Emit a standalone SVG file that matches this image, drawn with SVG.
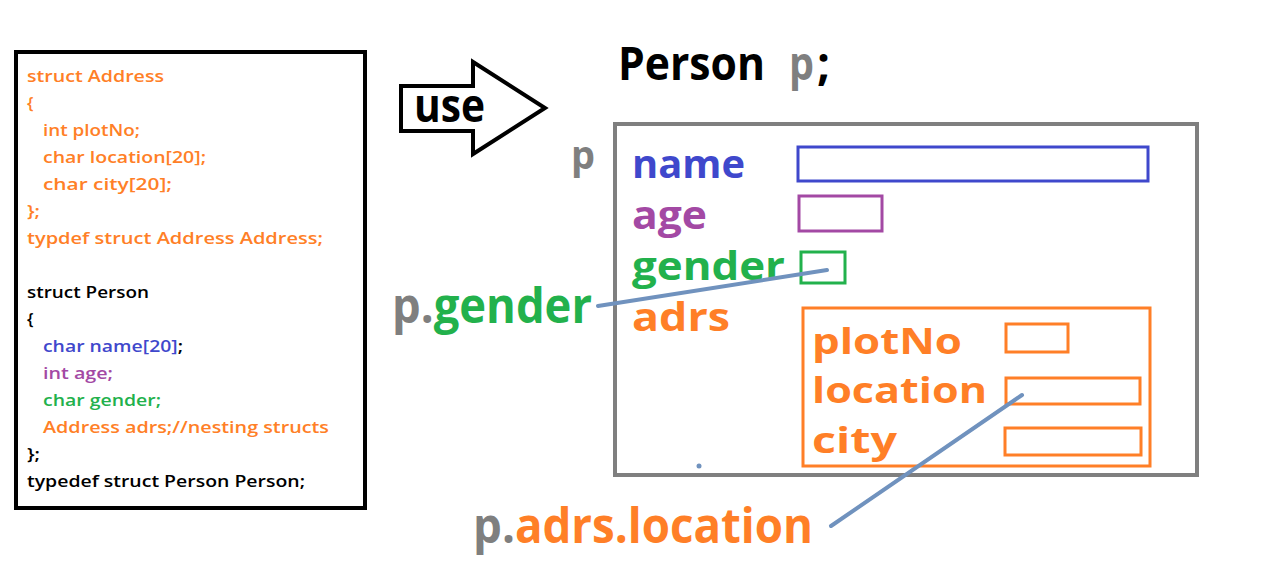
<svg xmlns="http://www.w3.org/2000/svg" width="1282" height="570" viewBox="0 0 1282 570">
<style>
text{font-family:"Open Sans","DejaVu Sans",sans-serif;}
.code{font-size:17px;font-weight:600;}
.big{font-weight:700;}
.or{fill:#FF7F27}.bl{fill:#3F48CC}.pu{fill:#A349A4}.gr{fill:#22B14C}.gy{fill:#7F7F7F}.bk{fill:#000}
.fld{fill:none;stroke-width:3}
.lead{stroke:#7092BE;stroke-width:4;fill:none;stroke-linecap:round}
</style>
<rect width="1282" height="570" fill="#fff"/>
<g id="code">
<rect x="16" y="52" width="349" height="456" fill="#fff" stroke="#000" stroke-width="4"/>
<text class="code or" x="27" y="82" textLength="137" lengthAdjust="spacingAndGlyphs">struct Address</text>
<text class="code or" x="27" y="109">{</text>
<text class="code or" x="43" y="136" textLength="97" lengthAdjust="spacingAndGlyphs">int plotNo;</text>
<text class="code or" x="43" y="163" textLength="163" lengthAdjust="spacingAndGlyphs">char location[20];</text>
<text class="code or" x="43" y="190" textLength="129" lengthAdjust="spacingAndGlyphs">char city[20];</text>
<text class="code or" x="27" y="217" textLength="13" lengthAdjust="spacingAndGlyphs">};</text>
<text class="code or" x="27" y="244" textLength="296" lengthAdjust="spacingAndGlyphs">typdef struct Address Address;</text>
<text class="code bk" x="27" y="298" textLength="122" lengthAdjust="spacingAndGlyphs">struct Person</text>
<text class="code bk" x="27" y="325">{</text>
<text class="code" x="43" y="352" textLength="140" lengthAdjust="spacingAndGlyphs"><tspan class="bl">char name[20]</tspan><tspan class="bk">;</tspan></text>
<text class="code pu" x="43" y="379" textLength="70" lengthAdjust="spacingAndGlyphs">int age;</text>
<text class="code gr" x="43" y="406" textLength="118" lengthAdjust="spacingAndGlyphs">char gender;</text>
<text class="code or" x="43" y="433" textLength="286" lengthAdjust="spacingAndGlyphs">Address adrs;//nesting structs</text>
<text class="code bk" x="27" y="460" textLength="13" lengthAdjust="spacingAndGlyphs">};</text>
<text class="code bk" x="27" y="487" textLength="278" lengthAdjust="spacingAndGlyphs">typedef struct Person Person;</text>
</g>
<g id="use-arrow">
<polygon points="401,86 473,86 473,62 545,108 473,154 473,131 401,131" fill="#fff" stroke="#000" stroke-width="4" stroke-linejoin="miter"/>
<text class="big bk" x="414" y="122" font-size="46" textLength="71" lengthAdjust="spacingAndGlyphs">use</text>
</g>
<g id="title">
<text class="big bk" x="618" y="80" font-size="46" textLength="147" lengthAdjust="spacingAndGlyphs">Person</text>
<text class="big gy" x="789" y="80" font-size="46" textLength="25" lengthAdjust="spacingAndGlyphs">p</text>
<text class="big bk" x="817" y="80" font-size="46" textLength="13" lengthAdjust="spacingAndGlyphs">;</text>
</g>
<g id="person-p">
<text class="big gy" x="571" y="169" font-size="40" textLength="24" lengthAdjust="spacingAndGlyphs">p</text>
<rect x="615" y="124" width="582" height="351" fill="none" stroke="#7F7F7F" stroke-width="4"/>
<circle cx="699" cy="466" r="2.5" fill="#7092BE"/>
</g>
<g id="field-name">
<text class="big bl" x="632" y="178" font-size="40" textLength="113" lengthAdjust="spacingAndGlyphs">name</text>
<rect class="fld" x="798" y="147" width="350" height="34" stroke="#3F48CC"/>
</g>
<g id="field-age">
<text class="big pu" x="632" y="229" font-size="40" textLength="75" lengthAdjust="spacingAndGlyphs">age</text>
<rect class="fld" x="799" y="196" width="83" height="35" stroke="#A349A4"/>
</g>
<g id="field-gender">
<text class="big gr" x="632" y="280" font-size="40" textLength="153" lengthAdjust="spacingAndGlyphs">gender</text>
<rect class="fld" x="801" y="252" width="44" height="31" stroke="#22B14C"/>
</g>
<g id="field-adrs">
<text class="big or" x="632" y="331" font-size="40" textLength="98" lengthAdjust="spacingAndGlyphs">adrs</text>
<rect class="fld" x="803" y="308" width="347" height="158" stroke="#FF7F27"/>
</g>
<g id="field-plotNo">
<text class="big or" x="812" y="354" font-size="36" textLength="150" lengthAdjust="spacingAndGlyphs">plotNo</text>
<rect class="fld" x="1006" y="324" width="62" height="28" stroke="#FF7F27"/>
</g>
<g id="field-location">
<text class="big or" x="812" y="403" font-size="36" textLength="175" lengthAdjust="spacingAndGlyphs">location</text>
<rect class="fld" x="1006" y="378" width="134" height="26" stroke="#FF7F27"/>
</g>
<g id="field-city">
<text class="big or" x="812" y="453" font-size="36" textLength="85" lengthAdjust="spacingAndGlyphs">city</text>
<rect class="fld" x="1005" y="428" width="136" height="27" stroke="#FF7F27"/>
</g>
<g id="label-p-gender">
<text class="big" x="392" y="323" font-size="48" textLength="200" lengthAdjust="spacingAndGlyphs"><tspan class="gy">p.</tspan><tspan class="gr">gender</tspan></text>
</g>
<g id="label-p-adrs-location">
<text class="big" x="473" y="543" font-size="48" textLength="340" lengthAdjust="spacingAndGlyphs"><tspan class="gy">p.</tspan><tspan class="or">adrs.location</tspan></text>
</g>
<g id="connectors">
<line class="lead" x1="598" y1="306" x2="827" y2="270"/>
<line class="lead" x1="831" y1="526" x2="1022" y2="395"/>
</g>
</svg>
